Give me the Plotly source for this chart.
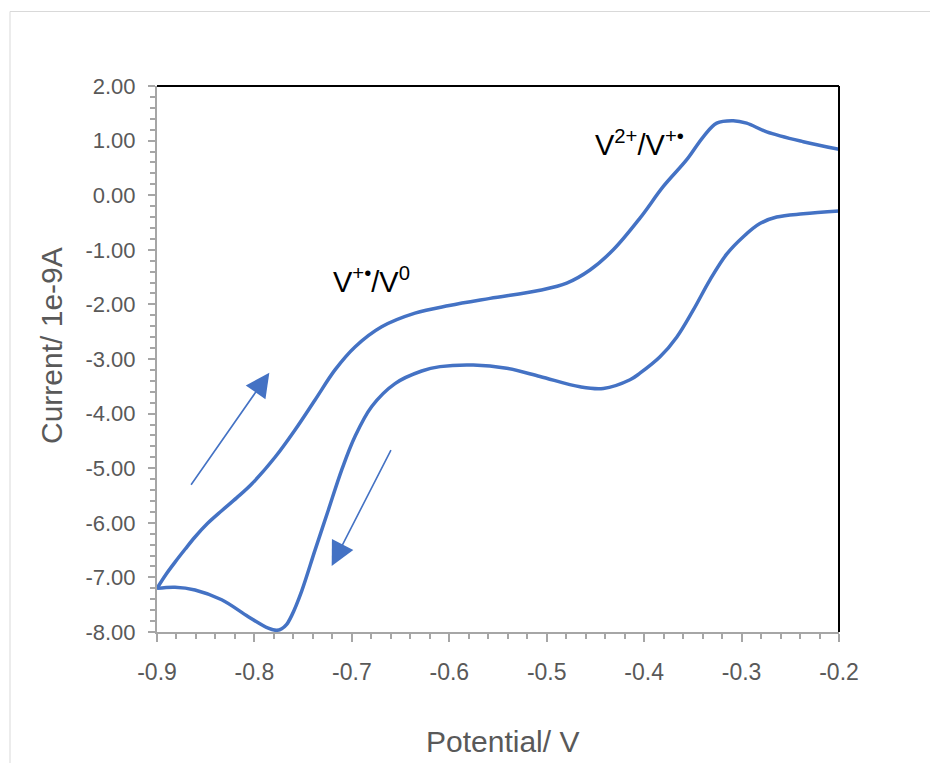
import plotly.graph_objects as go

# ---- data ----
forward_x = [-0.90, -0.891, -0.8815, -0.871, -0.861, -0.848, -0.8336, -0.818, -0.8028,
             -0.7789, -0.7584, -0.7378, -0.7173, -0.6968, -0.6694, -0.6352, -0.600,
             -0.5582, -0.5069, -0.4795, -0.4556, -0.4317, -0.4043, -0.3803, -0.3563,
             -0.3393, -0.3255, -0.3085, -0.2948, -0.2742, -0.2367, -0.20]
forward_y = [-7.20, -6.95, -6.72, -6.48, -6.26, -6.01, -5.78, -5.54, -5.29,
             -4.80, -4.30, -3.75, -3.20, -2.78, -2.41, -2.16, -2.02,
             -1.89, -1.74, -1.61, -1.37, -1.00, -0.42, 0.16, 0.65,
             1.07, 1.32, 1.365, 1.32, 1.16, 0.98, 0.84]

reverse_x = [-0.20, -0.2367, -0.264, -0.2812, -0.2982, -0.3153, -0.3324, -0.3495, -0.3666,
             -0.3837, -0.4043, -0.4145, -0.4419, -0.4658, -0.5069, -0.5411, -0.5754, -0.6095,
             -0.6283, -0.6557, -0.6796, -0.6968, -0.7104, -0.7242, -0.7378, -0.7515, -0.7618,
             -0.7669, -0.772, -0.7772, -0.7858, -0.8063, -0.8336, -0.861, -0.8815, -0.90]
reverse_y = [-0.29, -0.34, -0.40, -0.52, -0.76, -1.08, -1.55, -2.10, -2.60,
             -2.96, -3.26, -3.38, -3.54, -3.51, -3.32, -3.17, -3.11, -3.14,
             -3.22, -3.45, -3.87, -4.42, -5.03, -5.77, -6.50, -7.25, -7.70,
             -7.86, -7.94, -7.97, -7.93, -7.72, -7.41, -7.23, -7.18, -7.20]

x_tickvals = [-0.9, -0.8, -0.7, -0.6, -0.5, -0.4, -0.3, -0.2]
x_ticktext = ["-0.9", "-0.8", "-0.7", "-0.6", "-0.5", "-0.4", "-0.3", "-0.2"]
y_tickvals = [2, 1, 0, -1, -2, -3, -4, -5, -6, -7, -8]
y_ticktext = ["2.00", "1.00", "0.00", "-1.00", "-2.00", "-3.00", "-4.00",
              "-5.00", "-6.00", "-7.00", "-8.00"]

x_title = "Potential/ V"
y_title = "Current/ 1e-9A"
label_1 = "V<sup>+•</sup>/V<sup>0</sup>"
label_2 = "V<sup>2+</sup>/V<sup>+•</sup>"

LINE = "#4472C4"
AXIS = "#A6A6A6"
TXT = "#595959"
FONT = "Arial, Liberation Sans, sans-serif"

fig = go.Figure()
for xs, ys in ((forward_x, forward_y), (reverse_x, reverse_y)):
    fig.add_trace(go.Scatter(
        x=xs, y=ys, mode="lines",
        line=dict(color=LINE, width=3.5, shape="spline", smoothing=1.0),
        hoverinfo="skip", showlegend=False))

fig.update_layout(
    width=930, height=763,
    margin=dict(l=157, r=91, t=86, b=131),
    paper_bgcolor="white", plot_bgcolor="white",
    font=dict(family=FONT, color=TXT),
    showlegend=False,
)

fig.update_xaxes(
    range=[-0.9, -0.2], showgrid=False, zeroline=False,
    showline=True, linecolor=AXIS, linewidth=2,
    tickmode="array", tickvals=x_tickvals, ticktext=x_ticktext,
    ticks="outside", ticklen=8, tickwidth=2, tickcolor=AXIS,
    tickfont=dict(size=23, color=TXT, family=FONT), ticklabelstandoff=10,
    minor=dict(tick0=-0.9, dtick=0.02, ticks="outside", ticklen=5, tickwidth=1.5,
               tickcolor=AXIS, showgrid=False),
)
fig.update_yaxes(
    range=[-8, 2], showgrid=False, zeroline=False,
    showline=True, linecolor=AXIS, linewidth=2,
    tickmode="array", tickvals=y_tickvals, ticktext=y_ticktext,
    ticks="outside", ticklen=7, tickwidth=2, tickcolor=AXIS,
    tickfont=dict(size=22, color=TXT, family=FONT), ticklabelstandoff=8,
    minor=dict(tick0=-8, dtick=0.2, ticks="outside", ticklen=5, tickwidth=1.5,
               tickcolor=AXIS, showgrid=False),
)

# plot-area border (top/right black) and outer chart border
fig.add_shape(type="line", xref="paper", yref="paper", x0=0, x1=1, y0=1, y1=1,
              line=dict(color="black", width=2))
fig.add_shape(type="line", xref="paper", yref="paper", x0=1, x1=1, y0=0, y1=1,
              line=dict(color="black", width=2))
fig.add_shape(type="rect", xref="paper", yref="paper",
              x0=(10 - 157) / 682, x1=(940 - 157) / 682,
              y0=(632 - 775) / 546, y1=(632 - 11.5) / 546,
              line=dict(color="#D9D9D9", width=1), layer="below")

# axis titles
fig.add_annotation(text=x_title, xref="paper", yref="paper", x=(502 - 157) / 682,
                   y=(632 - 741) / 546, showarrow=False, xanchor="center", yanchor="middle",
                   font=dict(size=30, color=TXT, family=FONT))
fig.add_annotation(text=y_title, xref="paper", yref="paper", x=(51 - 157) / 682,
                   y=(632 - 346) / 546, showarrow=False, xanchor="center", yanchor="middle",
                   textangle=-90, font=dict(size=30, color=TXT, family=FONT))

# redox labels
fig.add_annotation(text=label_1, x=-0.7214, y=-1.55, xref="x", yref="y", showarrow=False,
                   xanchor="left", yanchor="middle", font=dict(size=29, color="black", family=FONT))
fig.add_annotation(text=label_2, x=-0.4525, y=0.95, xref="x", yref="y", showarrow=False,
                   xanchor="left", yanchor="middle", font=dict(size=29, color="black", family=FONT))

# scan direction arrows
fig.add_annotation(x=-0.7847, y=-3.25, ax=-0.8661, ay=-5.33, xref="x", yref="y",
                   axref="x", ayref="y", text="", showarrow=True, arrowhead=2,
                   arrowsize=3, arrowwidth=1.6, arrowcolor=LINE)
fig.add_annotation(x=-0.7207, y=-6.79, ax=-0.6591, ay=-4.64, xref="x", yref="y",
                   axref="x", ayref="y", text="", showarrow=True, arrowhead=2,
                   arrowsize=3, arrowwidth=1.6, arrowcolor=LINE)

fig.write_html("out.html")
